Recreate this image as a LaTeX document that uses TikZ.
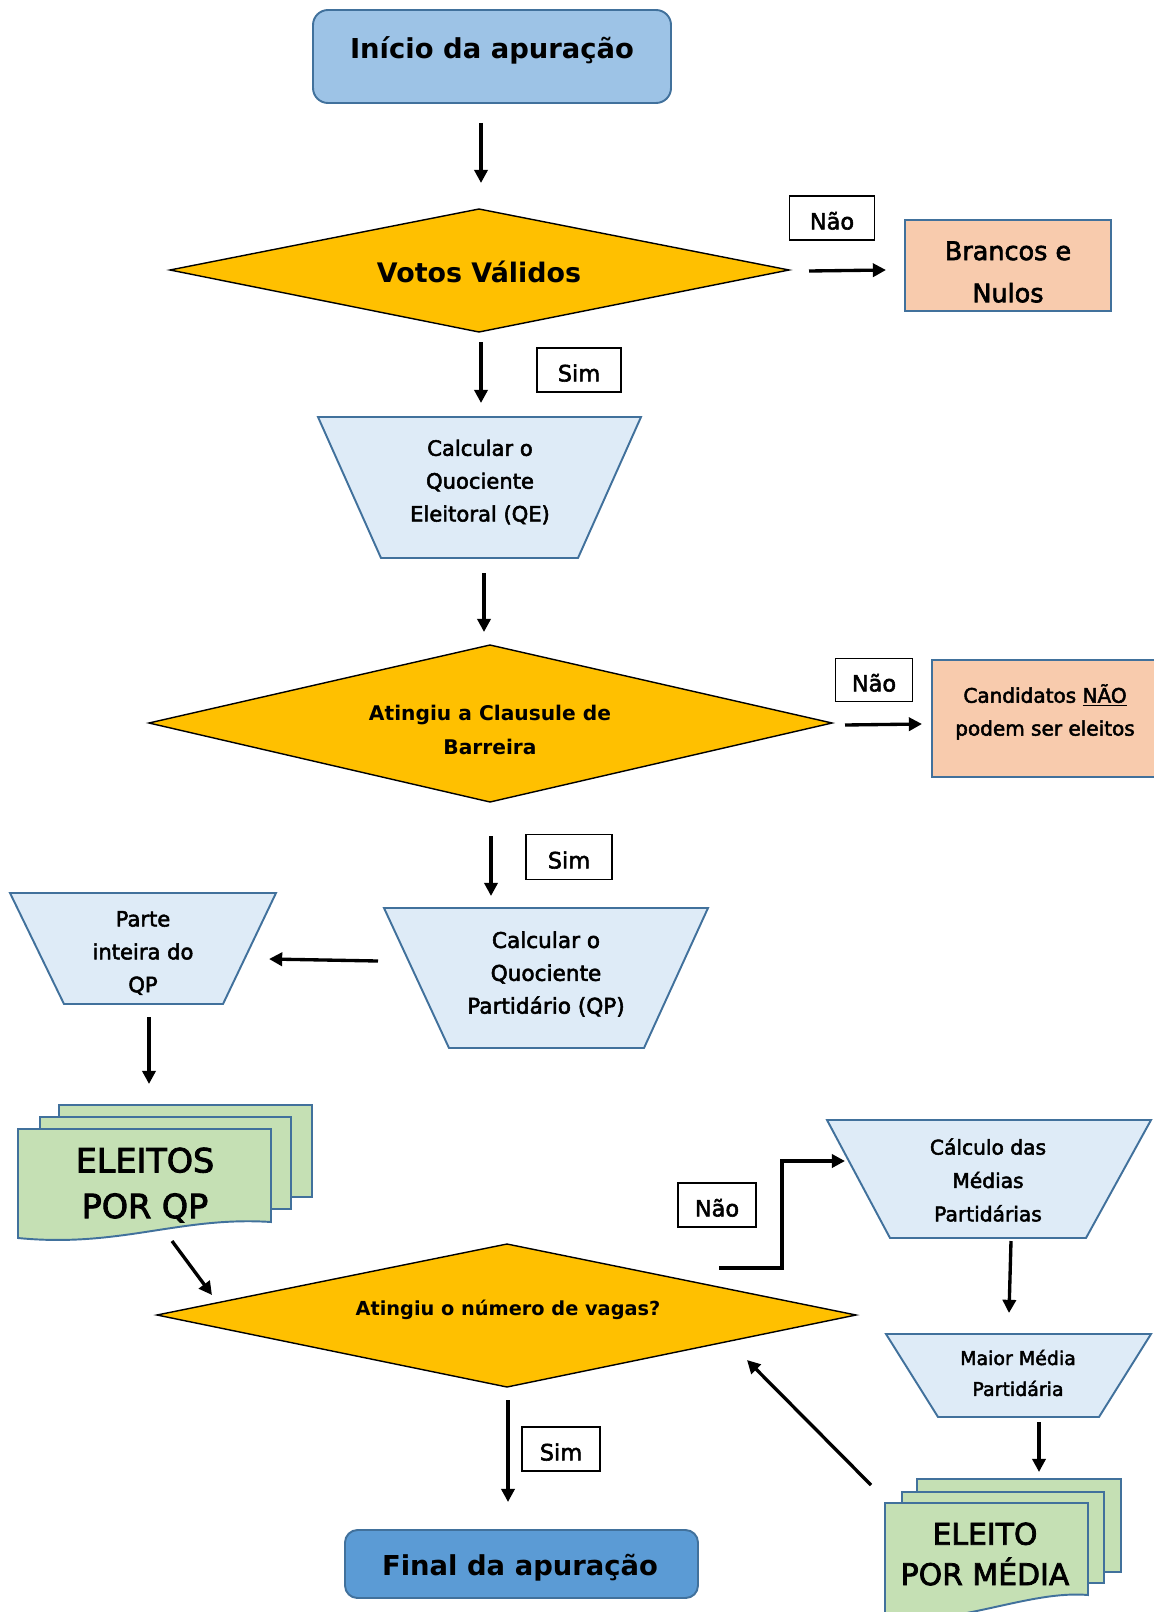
\documentclass[tikz,border=0pt]{standalone}
\usepackage{fontspec}
\setmainfont{DejaVu Sans}
\newfontfamily\heavy{DejaVu Sans}[FakeBold=2.5]
\usetikzlibrary{arrows.meta}
\definecolor{bluehead}{HTML}{9DC3E6}
\definecolor{bluefinal}{HTML}{5B9BD5}
\definecolor{bordblue}{HTML}{41719C}
\definecolor{gold}{HTML}{FFC000}
\definecolor{peach}{HTML}{F8CBAD}
\definecolor{paleblue}{HTML}{DEEBF7}
\definecolor{docgreen}{HTML}{C5E0B4}
\begin{document}
\begin{tikzpicture}[x=0.02cm,y=-0.02cm,
 arr/.style={line width=1.9pt,-{Triangle[length=7.5pt,width=7.5pt]}},
 box/.style={draw=bordblue,line width=1.1pt},
 dia/.style={draw=black,line width=0.8pt,fill=gold},
 trap/.style={draw=bordblue,line width=1.1pt,fill=paleblue},
 doc/.style={draw=bordblue,line width=1.1pt,fill=docgreen},
 lbl/.style={draw=black,line width=0.9pt,fill=white,inner sep=0pt,text height=13pt,text depth=0pt,font=\heavy\fontsize{12.8}{15}\selectfont},
 txt/.style={align=center,inner sep=0pt},
 title/.style={txt,font=\bfseries\fontsize{15.6}{19}\selectfont},
 small/.style={txt,font=\heavy\fontsize{12}{18.7}\selectfont},
]
\useasboundingbox (0,0) rectangle (1153,1612);

% Inicio
\draw[box,fill=bluehead,rounded corners=0.3cm] (313,10) rectangle (671,103);
\node[title] (inicio) at (492,50) {Início da apuração};

% Votos validos
\path[dia] (170,270) -- (479,209) -- (789,270) -- (479,332) -- cycle;
\node[title,font=\bfseries\fontsize{15.3}{19}\selectfont] (votos) at (479,272) {Votos Válidos};

\node[lbl,minimum width=1.7cm,minimum height=0.88cm] (nao1) at (832,218) {Não};
\draw[box,fill=peach] (905,220) rectangle (1111,311);
\node[txt,font=\heavy\fontsize{14.5}{24}\selectfont] (brancos) at (1008,272) {Brancos e\\Nulos};

\node[lbl,minimum width=1.68cm,minimum height=0.88cm] (sim1) at (579,370) {Sim};

% Quociente eleitoral
\path[trap] (318,417) -- (641,417) -- (578,558) -- (381,558) -- cycle;
\node[small] (qe) at (480,482) {Calcular o\\Quociente\\Eleitoral (QE)};

% Clausula de barreira
\path[dia] (149,723) -- (490,645) -- (832,723) -- (490,802) -- cycle;
\node[txt,font=\bfseries\fontsize{11.5}{19.8}\selectfont] (clausula) at (490,730) {Atingiu a Clausule de\\Barreira};

\node[lbl,minimum width=1.54cm,minimum height=0.86cm] (nao2) at (874,680) {Não};
\draw[box,fill=peach] (932,660) rectangle (1156,777);
\node[txt,font=\heavy\fontsize{11.4}{18.7}\selectfont] (candidatos) at (1045,712) {Candidatos \underline{NÃO}\\podem ser eleitos};

\node[lbl,minimum width=1.72cm,minimum height=0.9cm] (sim2) at (569,857) {Sim};

% Quociente partidario
\path[trap] (384,908) -- (708,908) -- (644,1048) -- (449,1048) -- cycle;
\node[small,font=\heavy\fontsize{12.3}{18.7}\selectfont] (qp) at (546,974) {Calcular o\\Quociente\\Partidário (QP)};

% Parte inteira
\path[trap] (10,893) -- (276,893) -- (223,1004) -- (64,1004) -- cycle;
\node[small] (parte) at (143,953) {Parte\\inteira do\\QP};

% Eleitos por QP
\path[doc] (59,1105) rectangle (312,1197);
\path[doc] (40,1117) rectangle (291,1209);
\path[doc] (18,1129) -- (271,1129) -- (271,1222) .. controls (180,1216) and (120,1248) .. (18,1238) -- cycle;
\node[txt,font=\heavy\fontsize{19}{26}\selectfont] (eleitosqp) at (145,1185) {ELEITOS\\POR QP};

% Numero de vagas
\path[dia] (157,1315) -- (507,1244) -- (856,1315) -- (507,1387) -- cycle;
\node[txt,font=\bfseries\fontsize{11}{14}\selectfont] (vagas) at (508,1310) {Atingiu o número de vagas?};

\node[lbl,minimum width=1.56cm,minimum height=0.88cm] (nao3) at (717,1205) {Não};

% Calculo das medias
\path[trap] (827,1120) -- (1151,1120) -- (1086,1238) -- (890,1238) -- cycle;
\node[small,font=\heavy\fontsize{11.5}{19}\selectfont] (medias) at (988,1180) {Cálculo das\\Médias\\Partidárias};

% Maior media
\path[trap] (886,1334) -- (1151,1334) -- (1099,1417) -- (938,1417) -- cycle;
\node[small,font=\heavy\fontsize{10.8}{17.6}\selectfont] (maior) at (1018,1373) {Maior Média\\Partidária};

% Eleito por media
\path[doc] (917,1479) rectangle (1121,1572);
\path[doc] (902,1492) rectangle (1104,1583);
\path[doc] (885,1503) -- (1088,1503) -- (1088,1595) .. controls (1030,1590) and (960,1625) .. (885,1620) -- cycle;
\node[txt,font=\heavy\fontsize{17}{23}\selectfont] (eleitomedia) at (985,1554) {ELEITO\\POR MÉDIA};

\node[lbl,minimum width=1.56cm,minimum height=0.88cm] (sim3) at (561,1449) {Sim};

% Final
\draw[box,fill=bluefinal,rounded corners=0.25cm] (345,1530) rectangle (698,1598);
\node[title] (final) at (520,1568) {Final da apuração};

% connector coordinates
\coordinate (a1s) at (481,123); \coordinate (a1e) at (481,183);
\coordinate (a2s) at (809,271); \coordinate (a2e) at (886,270);
\coordinate (a3s) at (481,342); \coordinate (a3e) at (481,403);
\coordinate (a4s) at (484,573); \coordinate (a4e) at (484,632);
\coordinate (a5s) at (845,725); \coordinate (a5e) at (922,724);
\coordinate (a6s) at (491,836); \coordinate (a6e) at (491,896);
\coordinate (a7s) at (378,961); \coordinate (a7e) at (269,959);
\coordinate (a8s) at (149,1017); \coordinate (a8e) at (149,1084);
\coordinate (a9s) at (172,1241); \coordinate (a9e) at (212,1295);
\coordinate (a10s) at (719,1268); \coordinate (a10m) at (782,1268); \coordinate (a10e) at (845,1161);
\coordinate (a11s) at (1011,1241); \coordinate (a11e) at (1009,1313);
\coordinate (a12s) at (1039,1422); \coordinate (a12e) at (1039,1472);
\coordinate (a13s) at (871,1485); \coordinate (a13e) at (747,1360);
\coordinate (a14s) at (508,1400); \coordinate (a14e) at (508,1502);

\draw[arr] (a1s) -- (a1e);
\draw[arr] (a2s) -- (a2e);
\draw[arr] (a3s) -- (a3e);
\draw[arr] (a4s) -- (a4e);
\draw[arr] (a5s) -- (a5e);
\draw[arr] (a6s) -- (a6e);
\draw[arr] (a7s) -- (a7e);
\draw[arr] (a8s) -- (a8e);
\draw[arr] (a9s) -- (a9e);
\draw[arr] (a10s) -- (a10m) |- (a10e);
\draw[arr] (a11s) -- (a11e);
\draw[arr] (a12s) -- (a12e);
\draw[arr] (a13s) -- (a13e);
\draw[arr] (a14s) -- (a14e);
\end{tikzpicture}
\end{document}
